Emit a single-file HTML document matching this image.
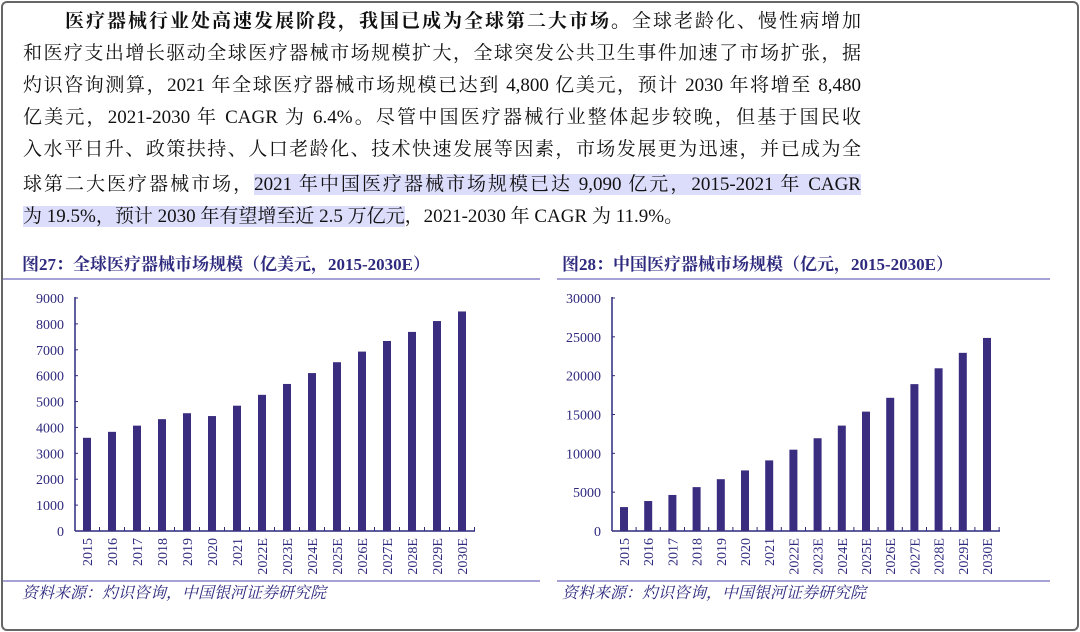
<!DOCTYPE html>
<html><head><meta charset="utf-8"><style>
html,body{margin:0;padding:0;background:#fff}
#f{position:absolute;left:1px;top:1px;width:1074px;height:626px;border:2px solid #666;border-radius:6px;overflow:hidden}
.p{position:absolute;left:23px;width:838px;font-family:"Liberation Serif","Noto Serif CJK SC",serif;font-size:19px;color:#111;text-align:justify;text-align-last:justify;line-height:28px;white-space:nowrap}
.h{background:#dcdcfb}
</style></head><body>
<div id="f"></div>
<div class="p" style="top:8px;left:65px;width:796px"><b>医疗器械行业处高速发展阶段，我国已成为全球第二大市场。</b>全球老龄化、慢性病增加</div>
<div class="p" style="top:40px">和医疗支出增长驱动全球医疗器械市场规模扩大，全球突发公共卫生事件加速了市场扩张，据</div>
<div class="p" style="top:72px">灼识咨询测算，2021 年全球医疗器械市场规模已达到 4,800 亿美元，预计 2030 年将增至 8,480</div>
<div class="p" style="top:104px">亿美元，2021-2030 年 CAGR 为 6.4%。尽管中国医疗器械行业整体起步较晚，但基于国民收</div>
<div class="p" style="top:136px">入水平日升、政策扶持、人口老龄化、技术快速发展等因素，市场发展更为迅速，并已成为全</div>
<div class="p" style="top:171px">球第二大医疗器械市场，<span class="h">2021 年中国医疗器械市场规模已达 9,090 亿元，2015-2021 年 CAGR</span></div>
<div class="p" style="top:203px;text-align-last:left"><span class="h">为 19.5%，预计 2030 年有望增至近 2.5 万亿元</span>，2021-2030 年 CAGR 为 11.9%。</div>
<svg width="1080" height="632" style="position:absolute;left:0;top:0" font-family="Liberation Serif,Noto Serif CJK SC,serif">
<g fill="#2e2a7e">
<text x="22" y="270" font-size="17" font-weight="bold" font-family="Liberation Serif,Noto Serif CJK SC,serif">图27：全球医疗器械市场规模（亿美元，2015-2030E）</text>
<text x="562" y="270" font-size="17" font-weight="bold" font-family="Liberation Serif,Noto Serif CJK SC,serif">图28：中国医疗器械市场规模（亿元，2015-2030E）</text>
<text x="22" y="598" font-size="16" font-style="italic" font-family="Liberation Serif,Noto Serif CJK SC,serif">资料来源：灼识咨询，中国银河证券研究院</text>
<text x="562" y="598" font-size="16" font-style="italic" font-family="Liberation Serif,Noto Serif CJK SC,serif">资料来源：灼识咨询，中国银河证券研究院</text>
</g>
<g stroke="#8a84c8" stroke-width="1.5">
<line x1="3" y1="279" x2="540" y2="279"/><line x1="557" y1="279" x2="1050" y2="279"/>
<line x1="3" y1="581" x2="540" y2="581"/><line x1="557" y1="581" x2="1050" y2="581"/>
</g>
<g id="c"></g>
</svg>
<script>
var ns="http://www.w3.org/2000/svg",g=document.getElementById("c");
function el(t,a,tx){var e=document.createElementNS(ns,t);for(var k in a)e.setAttribute(k,a[k]);if(tx)e.textContent=tx;g.appendChild(e);}
var yrs=["2015","2016","2017","2018","2019","2020","2021","2022E","2023E","2024E","2025E","2026E","2027E","2028E","2029E","2030E"];
function chart(ax,axEnd,lx,max,step,vals,c0,sp){
 var y0=531,h=233;
 el("line",{x1:ax,y1:297,x2:ax,y2:y0,stroke:"#2e2a7e","stroke-width":1.5});
 el("line",{x1:ax,y1:y0,x2:axEnd,y2:y0,stroke:"#2e2a7e","stroke-width":1.5});
 for(var v=0;v<=max;v+=step){var y=y0-v/max*h;
  el("line",{x1:ax,y1:y,x2:ax+3,y2:y,stroke:"#2e2a7e","stroke-width":1});
  el("text",{x:lx,y:y+5,"font-size":14,fill:"#2e2a7e","text-anchor":"end"},String(v));}
 for(var i=0;i<16;i++){var cx=c0+i*sp,vh=vals[i]/max*h;
  el("rect",{x:cx-4,y:y0-vh,width:8,height:vh,fill:"#3a2d80"});
  el("line",{x1:cx+sp/2,y1:y0,x2:cx+sp/2,y2:y0-4,stroke:"#2e2a7e","stroke-width":1});
  el("text",{x:0,y:0,"font-size":14,fill:"#2e2a7e","text-anchor":"end",transform:"translate("+(cx+5)+",538) rotate(-90)"},yrs[i]);}
}
chart(75,475,64,9000,1000,[3600,3830,4070,4320,4550,4440,4840,5260,5680,6100,6520,6930,7340,7690,8110,8480],87,25);
chart(612,1000,601,30000,5000,[3080,3860,4640,5650,6670,7800,9090,10470,11940,13570,15370,17150,18910,20950,22940,24860],624,24.2);
</script>
</body></html>
